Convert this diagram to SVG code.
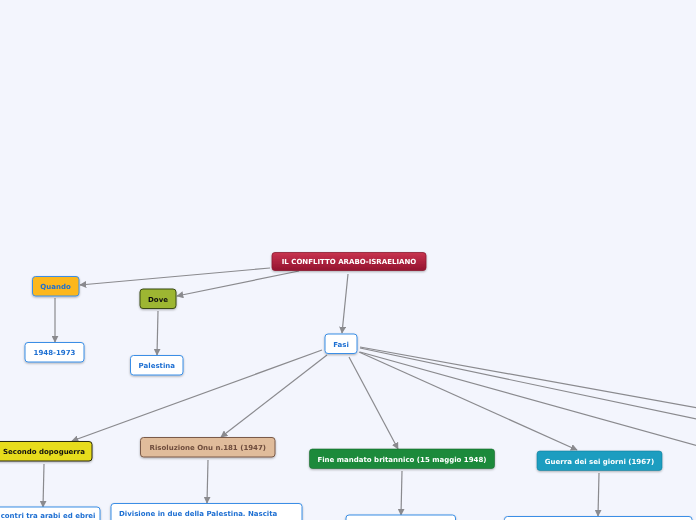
<svg xmlns="http://www.w3.org/2000/svg" width="696" height="520" viewBox="0 0 696 520">
<defs>
<linearGradient id="gRoot" x1="0" y1="0" x2="0" y2="1">
<stop offset="0" stop-color="#c8334f"/><stop offset="1" stop-color="#94142f"/>
</linearGradient>
<marker id="arr" viewBox="0 0 10 10" refX="9" refY="5" markerWidth="7" markerHeight="7" markerUnits="userSpaceOnUse" orient="auto">
<path d="M0,0 L10,5 L0,10 z" fill="#8a8a8e"/>
</marker>
<filter id="sh" x="-10%" y="-20%" width="120%" height="150%">
<feDropShadow dx="0" dy="1" stdDeviation="0.8" flood-color="#000" flood-opacity="0.3"/>
</filter>
</defs>
<style>
text{font-family:"DejaVu Sans",Verdana,sans-serif;font-size:7px;font-weight:bold;text-anchor:middle}
.box{filter:url(#sh)}
.w{fill:#fff;stroke:#3a8ee6;stroke-width:1}
.bt{fill:#1e6fd2}
.wt{fill:#fff}
.kt{fill:#111}
#connectors line{stroke:#8a8a8e;stroke-width:1.2;marker-end:url(#arr)}
</style>
<rect width="696" height="520" fill="#f3f5fd"/>
<g id="connectors">
<line x1="270" y1="268" x2="80" y2="285"/>
<line x1="299" y1="271" x2="177" y2="296"/>
<line x1="348" y1="274" x2="342" y2="333"/>
<line x1="55" y1="298" x2="55" y2="342"/>
<line x1="158" y1="311" x2="157" y2="355"/>
<line x1="322" y1="350" x2="72" y2="441"/>
<line x1="327" y1="355" x2="221" y2="437"/>
<line x1="349" y1="357" x2="398" y2="449"/>
<line x1="359" y1="352" x2="577" y2="450"/>
<line x1="360" y1="347" x2="720" y2="412" style="marker-end:none"/>
<line x1="360" y1="348" x2="720" y2="424" style="marker-end:none"/>
<line x1="360" y1="352" x2="720" y2="452" style="marker-end:none"/>
<line x1="44" y1="464" x2="43" y2="507"/>
<line x1="208" y1="460" x2="207" y2="503"/>
<line x1="402" y1="471" x2="401" y2="515"/>
<line x1="599" y1="473" x2="598" y2="516"/>
</g>
<g id="root" class="box"><rect x="272" y="252.5" width="154" height="18" rx="3" fill="url(#gRoot)" stroke="#8a1a30" stroke-width="0.8"/><text x="349" y="264" class="wt">IL CONFLITTO ARABO-ISRAELIANO</text></g>
<g id="quando" class="box"><rect x="32.5" y="276.5" width="46.5" height="19.5" rx="3" fill="#fcb71c" stroke="#3a8ee6"/><text x="55.5" y="289" class="bt">Quando</text></g>
<g id="dove" class="box"><rect x="140" y="289" width="36" height="19.5" rx="3" fill="#9db630" stroke="#3b4a14"/><text x="158" y="301.5" class="kt">Dove</text></g>
<g id="anni" class="box"><rect x="25" y="342.5" width="59" height="19.5" rx="3" class="w"/><text x="54.5" y="355" class="bt">1948-1973</text></g>
<g id="palestina" class="box"><rect x="130.5" y="355.5" width="52.5" height="19.5" rx="3" class="w"/><text x="156.8" y="368" class="bt">Palestina</text></g>
<g id="fasi" class="box"><rect x="325" y="334" width="32" height="19.5" rx="3" class="w"/><text x="341" y="346.5" class="bt">Fasi</text></g>
<g id="secondo" class="box"><rect x="-5" y="441.5" width="97" height="19.5" rx="3" fill="#e7dc1b" stroke="#2a2a10"/><text x="44" y="454" class="kt">Secondo dopoguerra</text></g>
<g id="risoluzione" class="box"><rect x="140.5" y="437.5" width="134.5" height="19.5" rx="3" fill="#e0bc9b" stroke="#7a5a48"/><text x="207.8" y="450" style="fill:#6e4c3c">Risoluzione Onu n.181 (1947)</text></g>
<g id="fine" class="box"><rect x="309.5" y="449" width="185" height="19.5" rx="3" fill="#1c8a3a" stroke="#156a2c" stroke-width="0.6"/><text x="402" y="461.5" class="wt">Fine mandato britannico (15 maggio 1948)</text></g>
<g id="guerra" class="box"><rect x="537" y="451" width="125" height="19.5" rx="3" fill="#1a9dc0" stroke="#15809c" stroke-width="0.6"/><text x="599.5" y="463.5" class="wt">Guerra dei sei giorni (1967)</text></g>
<g id="scontri" class="box"><rect x="-10" y="507" width="110" height="30" rx="3" class="w"/><text x="95.5" y="517.8" class="bt" style="text-anchor:end">contri tra arabi ed ebrei</text></g>
<g id="divisione" class="box"><rect x="111" y="503.5" width="191" height="30" rx="3" class="w"/><text x="119" y="515.5" class="bt" style="text-anchor:start">Divisione in due della Palestina. Nascita</text></g>
<g id="fine-det" class="box"><rect x="346" y="515" width="109.5" height="20" rx="3" class="w"/></g>
<g id="guerra-det" class="box"><rect x="504.5" y="516.5" width="187.5" height="20" rx="3" class="w"/></g>
</svg>
